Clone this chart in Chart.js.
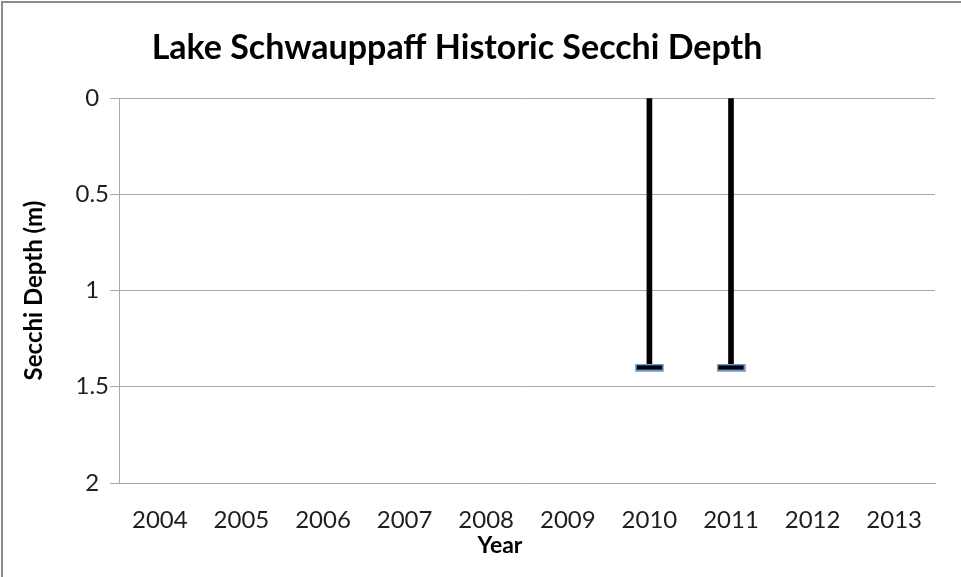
<!DOCTYPE html>
<html lang="en">
  <head>
    <meta charset="UTF-8" />
    <title>Lake Schwauppaff Historic Secchi Depth</title>
    <script src="https://cdn.jsdelivr.net/npm/chart.js"></script>
    <style>
      body { margin: 0; background: #fff; }
      canvas { display: block; }
    </style>
  </head>
  <body>
    <canvas id="secchiChart" width="961" height="577"></canvas>

    <script>
      // yearly secchi readings (m), empty years have no reading
      const years = ["2004", "2005", "2006", "2007", "2008", "2009", "2010", "2011", "2012", "2013"];
      const secchiDepth = [null, null, null, null, null, null, 1.4, 1.4, null, null];
      const depthTicks = [0, 0.5, 1, 1.5, 2];

      const chartTitle = "Lake Schwauppaff Historic Secchi Depth";
      const xTitle = "Year";
      const gridGray = "#a9a9a9";
      const textColor = "#1e1e1e";

      // small flat marker used at the bottom of each drop line
      function makeMarker() {
        const c = document.createElement("canvas");
        c.width = 29;
        c.height = 8;
        const g = c.getContext("2d");
        g.fillStyle = "#8fb2dc";
        g.fillRect(0, 0, 29, 8);
        g.fillStyle = "#4a7ebb";
        g.fillRect(1, 1, 27, 6);
        g.fillStyle = "#000";
        g.fillRect(2, 2, 25, 4);
        return c;
      }

      // white background, frame, chart title and x axis title
      const framePlugin = {
        id: "frame",
        beforeDraw(chart) {
          const ctx = chart.ctx;
          ctx.save();
          ctx.fillStyle = "#fff";
          ctx.fillRect(0, 0, chart.width, chart.height);
          ctx.strokeStyle = "#8c8c8c";
          ctx.lineWidth = 2;
          ctx.beginPath();
          ctx.moveTo(2, chart.height);
          ctx.lineTo(2, 2);
          ctx.lineTo(chart.width, 2);
          ctx.stroke();
          ctx.restore();
        },
        afterDraw(chart) {
          const ctx = chart.ctx;
          ctx.save();
          ctx.fillStyle = "#000";
          ctx.textAlign = "center";
          ctx.textBaseline = "alphabetic";
          ctx.font = "bold 34px Lato";
          ctx.fillText(chartTitle, 457, 59);
          ctx.font = "bold 23px Lato";
          ctx.fillText(xTitle, 500, 553);
          ctx.restore();
        },
      };

      const ctx = document.getElementById("secchiChart").getContext("2d");
      new Chart(ctx, {
        type: "bar",
        data: {
          labels: years,
          datasets: [
            {
              type: "line",
              label: "Secchi marker",
              data: secchiDepth,
              showLine: false,
              pointStyle: makeMarker(),
              pointRadius: 6,
              pointHoverRadius: 6,
              order: 0,
            },
            {
              label: "Secchi Depth",
              data: secchiDepth,
              backgroundColor: "#000",
              barThickness: 5,
              order: 1,
            },
          ],
        },
        options: {
          responsive: false,
          animation: false,
          layout: {
            padding: { left: 0, right: 26, top: 98, bottom: 0 },
          },
          plugins: {
            legend: { display: false },
            tooltip: { enabled: false },
            title: { display: false },
          },
          scales: {
            x: {
              grid: { display: false },
              border: { display: true, color: gridGray, width: 1 },
              ticks: {
                color: textColor,
                font: { family: "Lato", size: 24 },
                padding: 15,
                maxRotation: 0,
              },
              afterFit(scale) {
                scale.height = 94;
              },
            },
            y: {
              reverse: true,
              min: depthTicks[0],
              max: depthTicks[depthTicks.length - 1],
              grid: {
                color: gridGray,
                lineWidth: 1,
                tickLength: 9,
              },
              border: { display: true, color: gridGray, width: 1 },
              ticks: {
                stepSize: depthTicks[1] - depthTicks[0],
                color: textColor,
                font: { family: "Lato", size: 24 },
                padding: 1,
                crossAlign: "center",
                callback: (v) => String(v),
              },
              title: {
                display: true,
                text: "Secchi Depth (m)",
                color: "#000",
                font: { family: "Lato", size: 24, weight: "bold" },
                padding: { top: 20, bottom: 0 },
              },
              afterFit(scale) {
                scale.width = 119;
              },
            },
          },
        },
        plugins: [framePlugin],
      });
    </script>
  </body>
</html>
